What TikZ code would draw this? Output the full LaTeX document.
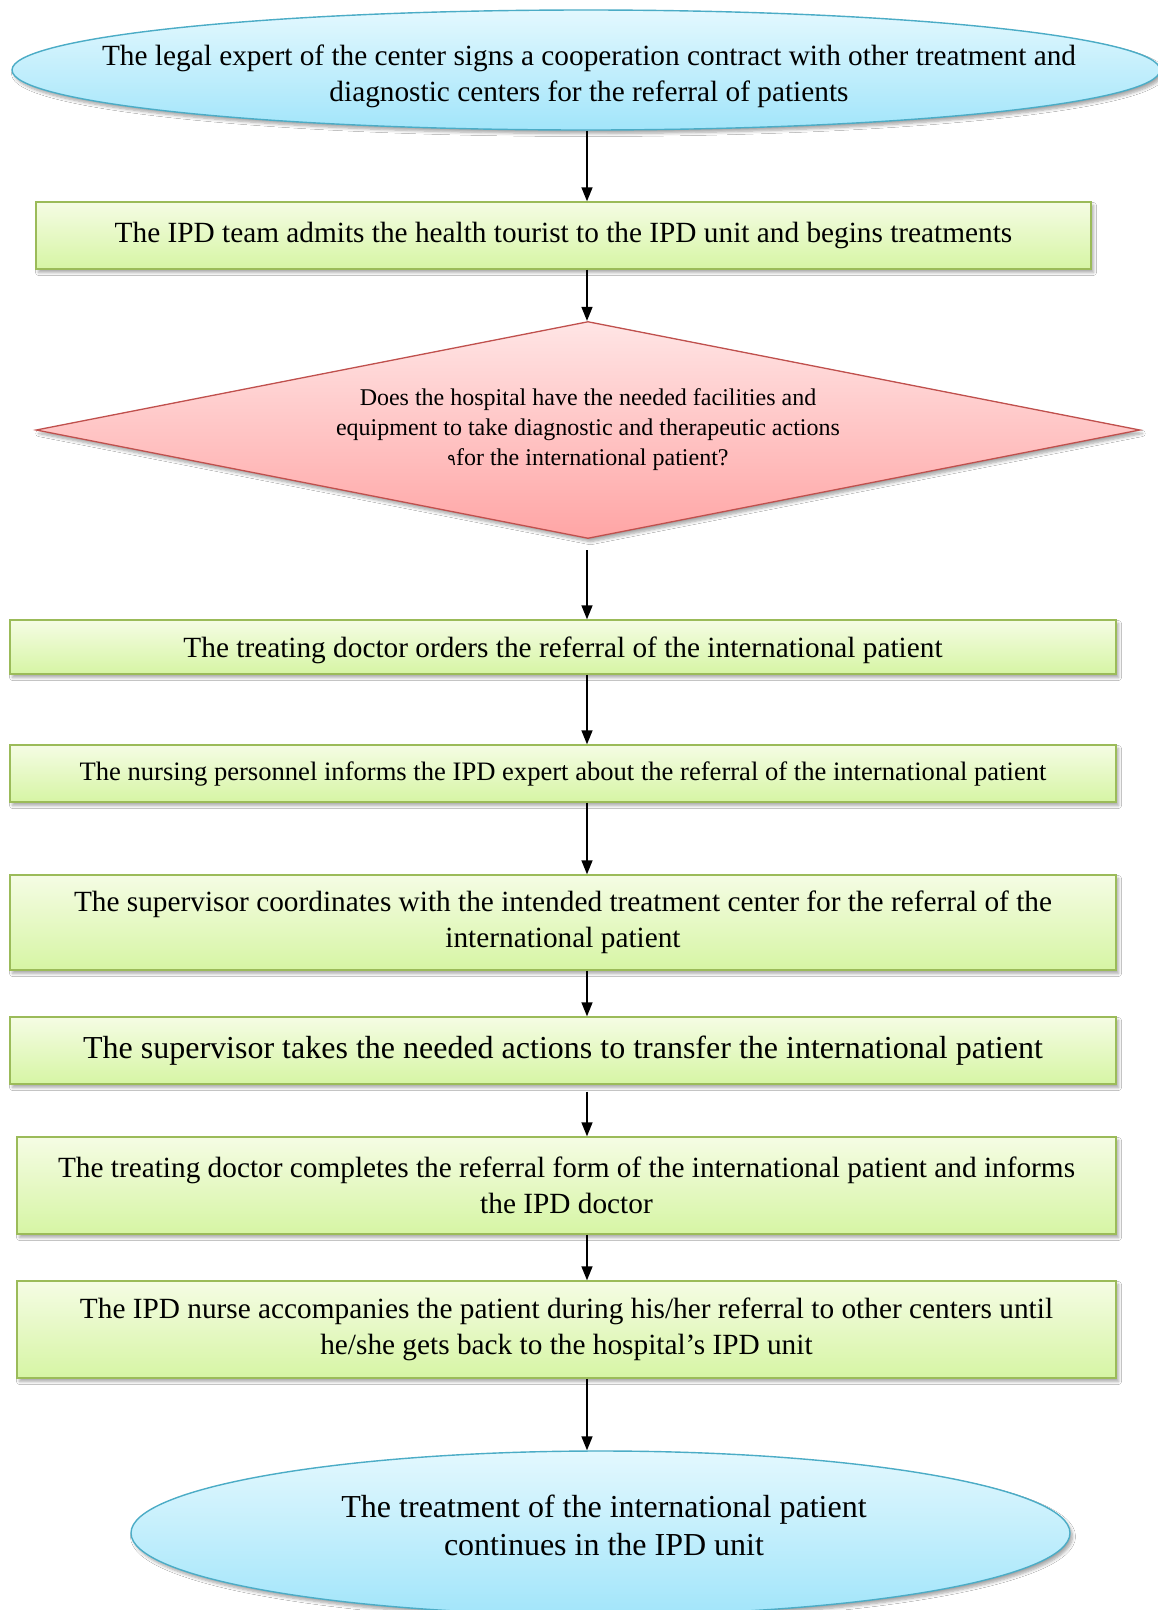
\documentclass[tikz,border=0pt]{standalone}
\usepackage{fontspec}
\setmainfont{Liberation Serif}
\newfontfamily\arfont[Script=Arabic]{DejaVu Sans}
\usetikzlibrary{shapes.geometric,arrows.meta,shadows.blur}
\definecolor{eborder}{HTML}{4BACC6}
\definecolor{etop}{HTML}{E3F8FE}
\definecolor{ebot}{HTML}{A2E5FA}
\definecolor{gborder}{HTML}{9BBB59}
\definecolor{gtop}{HTML}{F5FCE4}
\definecolor{gbot}{HTML}{D6F5A4}
\definecolor{rborder}{HTML}{C0504D}
\definecolor{rtop}{HTML}{FFE5E5}
\definecolor{rbot}{HTML}{FFA5A5}
\tikzset{
  softshadow/.style={blur shadow={shadow xshift=2.5pt, shadow yshift=-3.5pt, shadow blur radius=3pt, shadow blur steps=6, shadow opacity=35}},
  termin/.style={ellipse, draw=eborder, line width=1.4pt, top color=etop, bottom color=ebot, inner sep=0pt, softshadow},
  procbox/.style={rectangle, draw=gborder, line width=1.4pt, top color=gtop, bottom color=gbot, inner sep=0pt, align=center, softshadow},
  decide/.style={diamond, aspect=5, draw=rborder, line width=1.3pt, top color=rtop, bottom color=rbot, inner sep=0pt, align=center, softshadow},
  txt/.style={align=center, inner sep=0pt},
  fbig/.style={font=\fontsize{29.3pt}{36pt}\selectfont},
  fsmall/.style={font=\fontsize{26.6pt}{33pt}\selectfont},
  flarge/.style={font=\fontsize{32pt}{38pt}\selectfont},
  fdec/.style={font=\fontsize{24pt}{30pt}\selectfont},
  arr/.style={line width=1.5pt, -{Triangle[length=14pt,width=11pt]}}
}
\begin{document}
\begin{tikzpicture}[x=1pt,y=-1pt]
\fill[white] (0,0) rectangle (1158,1610);
\useasboundingbox (0,0) rectangle (1158,1610);
\coordinate (ax) at (587,0);

\node[termin, minimum width=1148pt, minimum height=120pt] (s) at (586,70) {};
\node[txt, fbig] (st) at (589,76) {The legal expert of the center signs a cooperation contract with other treatment and\\diagnostic centers for the referral of patients};

\node[procbox, fbig, minimum width=1055pt, minimum height=67pt] (b1) at (563.5,235.5) {The IPD team admits the health tourist to the IPD unit and begins treatments};

\node[decide, fdec, minimum width=1104pt, minimum height=217pt] (d) at (588,430) {Does the hospital have the needed facilities and\\equipment to take diagnostic and therapeutic actions\\{\arfont\fontsize{16pt}{16pt}\selectfont ٩}for the international patient?};

\node[procbox, fbig, text height=28pt, text depth=6.4pt, minimum width=1106pt, minimum height=54pt] (b2) at (563,647) {The treating doctor orders the referral of the international patient};

\node[procbox, fsmall, minimum width=1106pt, minimum height=57pt] (b3) at (563,773.5) {The nursing personnel informs the IPD expert about the referral of the international patient};

\node[procbox, fbig, minimum width=1106pt, minimum height=95pt] (b4) at (563,922.5) {The supervisor coordinates with the intended treatment center for the referral of the\\international patient};

\node[procbox, flarge, minimum width=1106pt, minimum height=67pt] (b5) at (563,1050.5) {The supervisor takes the needed actions to transfer the international patient};

\node[procbox, fbig, minimum width=1099pt, minimum height=97pt] (b6) at (566.5,1185.5) {The treating doctor completes the referral form of the international patient and informs\\the IPD doctor};

\node[procbox, fbig, minimum width=1099pt, minimum height=97pt] (b7) at (566.5,1329.5) {The IPD nurse accompanies the patient during his/her referral to other centers until\\he/she gets back to the hospital’s IPD unit};

\node[termin, minimum width=939pt, minimum height=164pt] (e) at (600.5,1533) {};
\node[txt, flarge] (et) at (604,1525) {The treatment of the international patient\\continues in the IPD unit};

\coordinate (dgap) at ([yshift=-11pt]d.south);
\coordinate (b5gap) at ([yshift=-7pt]b5.south);

\draw[arr] (s.south -| ax) -- (b1.north -| ax);
\draw[arr] (b1.south -| ax) -- (d.north -| ax);
\draw[arr] (dgap -| ax) -- (b2.north -| ax);
\draw[arr] (b2.south -| ax) -- (b3.north -| ax);
\draw[arr] (b3.south -| ax) -- (b4.north -| ax);
\draw[arr] (b4.south -| ax) -- (b5.north -| ax);
\draw[arr] (b5gap -| ax) -- (b6.north -| ax);
\draw[arr] (b6.south -| ax) -- (b7.north -| ax);
\draw[arr] (b7.south -| ax) -- (e.north -| ax);
\end{tikzpicture}
\end{document}
